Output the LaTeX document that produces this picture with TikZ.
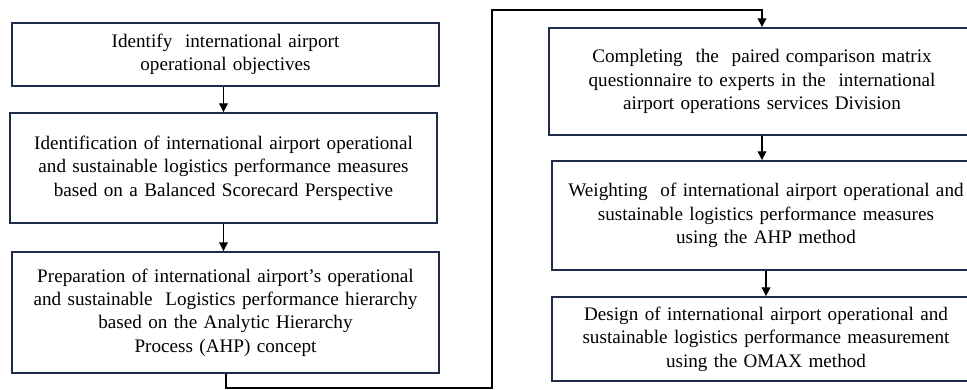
\documentclass[tikz,border=0pt]{standalone}
\usepackage{fontspec}
\setmainfont{Liberation Serif}
\usetikzlibrary{arrows.meta}
\definecolor{boxline}{HTML}{1F2D4A}
\begin{document}
\begin{tikzpicture}[x=0.02cm, y=-0.02cm,
    box/.style={draw=boxline, line width=1.1pt, inner sep=0pt, align=center,
      font=\fontsize{10.9}{13.3}\selectfont},
    flow/.style={line width=0.8pt, -{Triangle[length=5pt, width=5pt]}}]
  \useasboundingbox (0,0) rectangle (967,389);

  \node[box, text width=8.54cm, minimum height=1.26cm] (objectives) at (225.5,54.5)
    {Identify \ international airport\\ operational objectives};
  \node[box, text width=8.54cm, minimum height=2.2cm] (measures) at (223.5,168)
    {Identification of international airport operational\\ and sustainable logistics performance measures\\ based on a Balanced Scorecard Perspective};
  \node[box, text width=8.54cm, minimum height=2.42cm] (hierarchy) at (225.5,312.5)
    {Preparation of international airport’s operational\\ and sustainable \ Logistics performance hierarchy\\ based on the Analytic Hierarchy\\ Process (AHP) concept};

  \node[box, text width=8.52cm, minimum height=2.14cm] (questionnaire) at (762,81.5)
    {Completing \ the \ paired comparison matrix\\ questionnaire to experts in the \ international\\ airport operations services Division};
  \node[box, text width=8.56cm, minimum height=2.18cm] (weighting) at (766,215.5)
    {Weighting \ of international airport operational and\\ sustainable logistics performance measures\\ using the AHP method};
  \node[box, text width=8.56cm, minimum height=1.68cm] (omax) at (766,339)
    {Design of international airport operational and\\ sustainable logistics performance measurement\\ using the OMAX method};

  \coordinate (low) at (492,388);
  \coordinate (high) at (492,10);

  \draw[flow] (objectives.south -| measures.north) -- (measures.north);
  \draw[flow] (measures.south) -- (hierarchy.north -| measures.south);
  \draw[flow] (hierarchy.south) ++(0.5,0) |- (low) -- (high) -| (questionnaire.north);
  \draw[flow] (questionnaire.south) -- (weighting.north -| questionnaire.south);
  \draw[flow] (weighting.south) -- (omax.north);
\end{tikzpicture}
\end{document}
